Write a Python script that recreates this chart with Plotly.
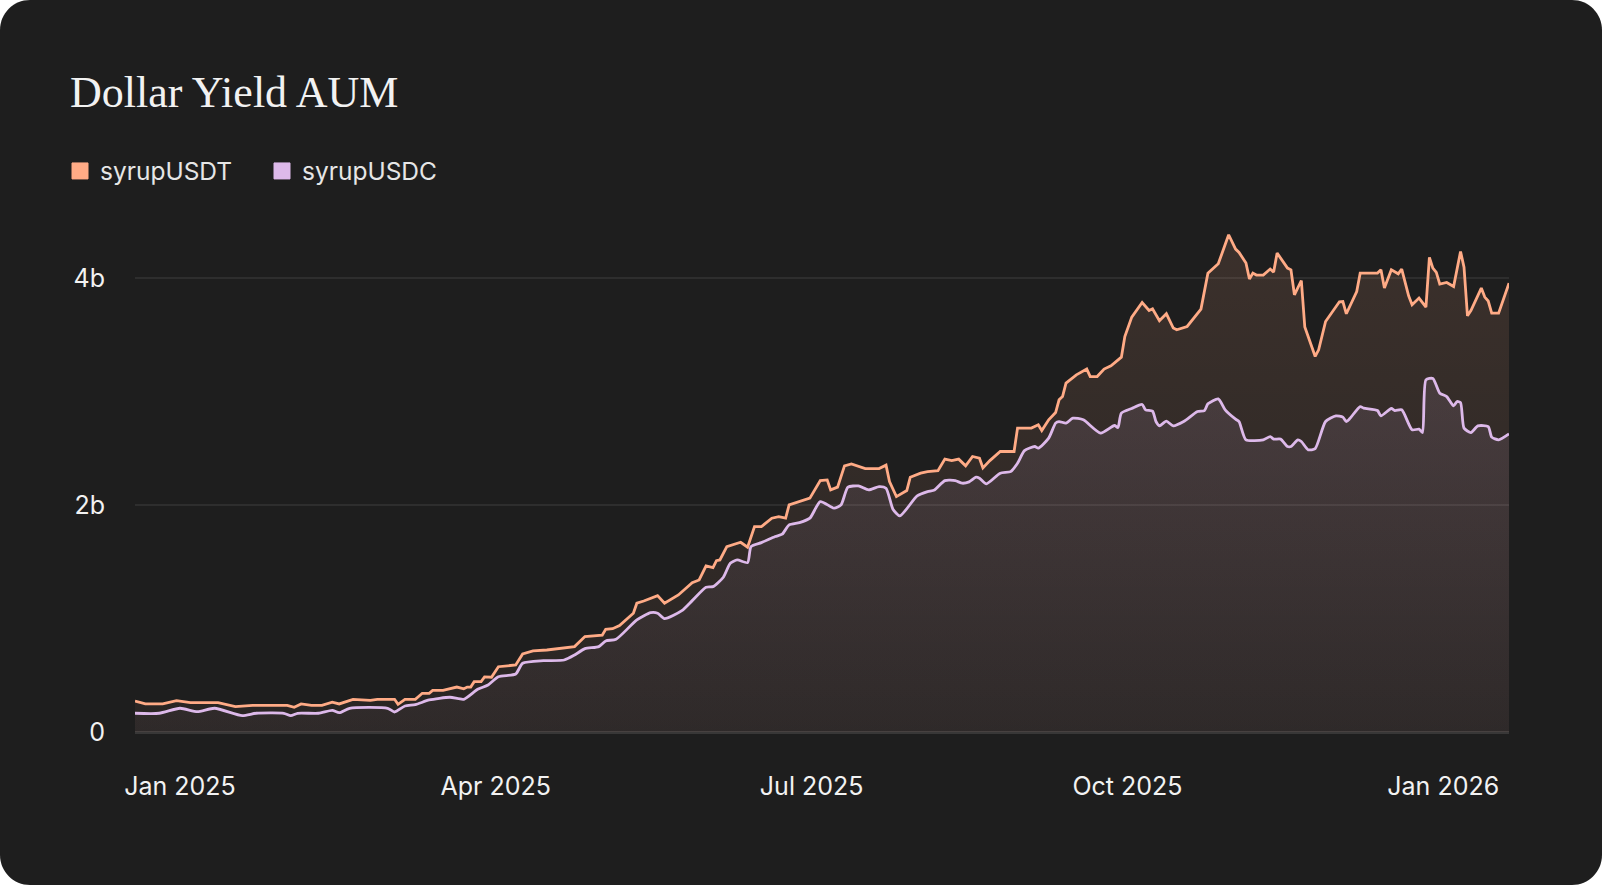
import plotly.graph_objects as go
import pandas as pd

# ---------------- data (AUM in billions USD, x = days since 2025-01-01) ----------------
BASE_DATE = "2025-01-01"

usdt_day = [-13, -10, -5, -1, 3, 11, 16, 21, 31, 33, 35, 38, 41, 44, 46, 50, 55, 57, 62, 63,
            65, 68, 70, 72, 73, 76, 80, 82, 83, 84, 85, 87, 88, 90, 92, 97, 99, 102, 106, 114,
            117, 122, 123, 125, 127, 131, 132, 134, 138, 140, 144, 148, 150, 152, 154, 155, 156, 158, 162, 164,
            166, 168, 171, 173, 175, 176, 182, 185, 187, 188, 190, 192, 194, 198, 202, 204, 205, 207, 210, 211,
            214, 216, 219, 221, 223, 225, 227, 229, 231, 232, 234, 237, 241, 242, 246, 248, 249, 251, 253, 254,
            255, 256, 259, 262, 263, 265, 267, 269, 272, 273, 275, 278, 280, 281, 283, 285, 287, 288, 291, 295,
            297, 300, 303, 305, 306, 308, 309, 310, 311, 313, 315, 316, 317, 320, 321, 322, 324, 325, 328, 329,
            331, 333, 335, 336, 337, 340, 341, 346, 347, 348, 350, 352, 353, 355, 356, 358, 360, 361, 362, 363,
            364, 366, 368, 370, 371, 372, 373, 376, 377, 378, 379, 381, 384]
usdt_aum_b = [0.273, 0.247, 0.247, 0.276, 0.258, 0.258, 0.223, 0.235, 0.235, 0.218, 0.247, 0.235, 0.235, 0.262, 0.247, 0.288, 0.279, 0.288, 0.288, 0.244,
              0.288, 0.288, 0.341, 0.341, 0.367, 0.367, 0.396, 0.381, 0.396, 0.396, 0.443, 0.443, 0.485, 0.482, 0.575, 0.590, 0.687, 0.714, 0.722, 0.752,
              0.840, 0.852, 0.905, 0.910, 0.937, 1.046, 1.134, 1.154, 1.201, 1.134, 1.207, 1.315, 1.339, 1.463, 1.448, 1.509, 1.515, 1.633, 1.671, 1.627,
              1.809, 1.809, 1.883, 1.897, 1.883, 2.000, 2.059, 2.214, 2.220, 2.132, 2.156, 2.344, 2.361, 2.320, 2.320, 2.350, 2.205, 2.073, 2.126, 2.244,
              2.279, 2.293, 2.302, 2.403, 2.390, 2.403, 2.344, 2.426, 2.411, 2.326, 2.390, 2.470, 2.470, 2.676, 2.676, 2.705, 2.655, 2.749, 2.813, 2.925,
              2.954, 3.072, 3.145, 3.196, 3.130, 3.130, 3.196, 3.225, 3.301, 3.483, 3.654, 3.782, 3.712, 3.727, 3.621, 3.683, 3.557, 3.542, 3.571, 3.724,
              4.041, 4.123, 4.379, 4.253, 4.223, 4.130, 3.989, 4.041, 4.024, 4.024, 4.077, 4.050, 4.218, 4.085, 4.070, 3.850, 3.976, 3.566, 3.307, 3.366,
              3.615, 3.703, 3.789, 3.791, 3.683, 3.879, 4.041, 4.041, 4.070, 3.909, 4.070, 4.035, 4.077, 3.841, 3.762, 3.821, 3.742, 4.179, 4.085, 4.047,
              3.944, 3.959, 3.923, 4.232, 4.094, 3.665, 3.712, 3.909, 3.830, 3.795, 3.689, 3.689, 3.953]

usdc_day = [-13, -6, 0, 5, 10, 18, 22, 30, 32, 34, 40, 44, 46, 49, 60, 62, 65, 68, 72, 78,
            82, 86, 89, 92, 97, 99, 105, 111, 114, 117, 121, 123, 126, 132, 136, 138, 140, 145, 148, 152,
            154, 157, 159, 161, 164, 165, 168, 172, 174, 176, 179, 182, 185, 189, 191, 193, 196, 199, 202, 204,
            206, 208, 213, 216, 218, 221, 224, 226, 228, 230, 231, 233, 237, 240, 242, 244, 247, 248, 251, 253,
            254, 256, 258, 261, 266, 270, 271, 272, 275, 278, 279, 281, 282, 283, 285, 287, 290, 294, 296, 297,
            300, 302, 305, 306, 308, 313, 315, 316, 318, 320, 321, 323, 324, 326, 328, 331, 334, 336, 337, 338,
            341, 342, 346, 347, 350, 351, 353, 356, 358, 359, 360, 362, 364, 366, 368, 369, 370, 371, 373, 375,
            378, 379, 381, 384]
usdc_aum_b = [0.165, 0.165, 0.209, 0.179, 0.209, 0.144, 0.165, 0.165, 0.144, 0.165, 0.165, 0.191, 0.170, 0.209, 0.209, 0.176, 0.229, 0.241, 0.282, 0.306,
              0.288, 0.376, 0.414, 0.487, 0.511, 0.605, 0.628, 0.634, 0.678, 0.734, 0.752, 0.802, 0.817, 0.987, 1.051, 1.046, 0.998, 1.069, 1.157, 1.275,
              1.280, 1.363, 1.486, 1.515, 1.492, 1.633, 1.668, 1.721, 1.742, 1.824, 1.844, 1.883, 2.029, 1.971, 2.000, 2.156, 2.167, 2.132, 2.161, 2.147,
              1.962, 1.903, 2.079, 2.117, 2.132, 2.214, 2.214, 2.191, 2.203, 2.244, 2.235, 2.185, 2.279, 2.293, 2.367, 2.478, 2.514, 2.500, 2.588, 2.720,
              2.734, 2.720, 2.764, 2.749, 2.632, 2.699, 2.681, 2.808, 2.849, 2.884, 2.837, 2.826, 2.734, 2.696, 2.737, 2.696, 2.734, 2.822, 2.831, 2.890,
              2.934, 2.837, 2.755, 2.734, 2.573, 2.573, 2.602, 2.579, 2.579, 2.514, 2.514, 2.573, 2.558, 2.485, 2.496, 2.734, 2.784, 2.773, 2.734, 2.760,
              2.866, 2.852, 2.831, 2.784, 2.849, 2.831, 2.837, 2.661, 2.667, 2.637, 3.101, 3.113, 2.984, 2.954, 2.872, 2.910, 2.901, 2.676, 2.637, 2.696,
              2.690, 2.597, 2.573, 2.626]

series_names = ["syrupUSDT", "syrupUSDC"]

y_tickvals = [0, 2, 4]
y_ticktext = ["0", "2b", "4b"]
x_tickvals = ["2025-01-01", "2025-04-02 06:00", "2025-07-02 12:00", "2025-10-01 18:00", "2026-01-01"]
x_ticktext = ["Jan 2025", "Apr 2025", "Jul 2025", "Oct 2025", "Jan 2026"]
x_range = ["2024-12-19", "2026-01-20"]
y_range = [0, 4.5]

# ---------------- styling ----------------
ORANGE = "#FFAB86"
LILAC = "#DDB9EA"
CARD = "#1E1E1E"
TEXT = "#F2F2F2"
SANS = "Inter, Roboto, sans-serif"
SERIF = "Liberation Serif, DejaVu Serif, serif"

W, H = 1602, 885
L, R, T, B = 135, 93, 221, 153
PW, PH = W - L - R, H - T - B


def to_px_x(x):
    return (x - L) / PW


def to_px_y(y):
    return 1 - (y - T) / PH


def rounded_card_path(r=30):
    k = 0.5523 * r
    pts = []
    pts.append(f"M {to_px_x(r)},{to_px_y(0)}")
    pts.append(f"L {to_px_x(W - r)},{to_px_y(0)}")
    pts.append(f"C {to_px_x(W - r + k)},{to_px_y(0)} {to_px_x(W)},{to_px_y(r - k)} {to_px_x(W)},{to_px_y(r)}")
    pts.append(f"L {to_px_x(W)},{to_px_y(H - r)}")
    pts.append(f"C {to_px_x(W)},{to_px_y(H - r + k)} {to_px_x(W - r + k)},{to_px_y(H)} {to_px_x(W - r)},{to_px_y(H)}")
    pts.append(f"L {to_px_x(r)},{to_px_y(H)}")
    pts.append(f"C {to_px_x(r - k)},{to_px_y(H)} {to_px_x(0)},{to_px_y(H - r + k)} {to_px_x(0)},{to_px_y(H - r)}")
    pts.append(f"L {to_px_x(0)},{to_px_y(r)}")
    pts.append(f"C {to_px_x(0)},{to_px_y(r - k)} {to_px_x(r - k)},{to_px_y(0)} {to_px_x(r)},{to_px_y(0)}")
    pts.append("Z")
    return " ".join(pts)


base = pd.Timestamp(BASE_DATE)
usdt_dates = base + pd.to_timedelta(usdt_day, unit="D")
usdc_dates = base + pd.to_timedelta(usdc_day, unit="D")

fig = go.Figure()

fig.add_trace(go.Scatter(
    x=usdt_dates, y=usdt_aum_b, name=series_names[0], mode="lines",
    line=dict(color=ORANGE, width=2.8, shape="linear"),
    fill="tozeroy",
    fillgradient=dict(type="vertical", colorscale=[[0, "rgba(255,171,134,0.05)"], [1, "rgba(255,171,134,0.13)"]]),
    showlegend=False, hoverinfo="skip",
))
fig.add_trace(go.Scatter(
    x=usdc_dates, y=usdc_aum_b, name=series_names[1], mode="lines",
    line=dict(color=LILAC, width=2.8, shape="spline", smoothing=0.6),
    fill="tozeroy",
    fillgradient=dict(type="vertical", colorscale=[[0, "rgba(221,185,234,0.03)"], [1, "rgba(221,185,234,0.11)"]]),
    showlegend=False, hoverinfo="skip",
))

# legend entries (square swatches)
for name, col in zip(series_names, [ORANGE, LILAC]):
    fig.add_trace(go.Scatter(
        x=[None], y=[None], mode="markers", name=name,
        marker=dict(symbol="square", size=18, color=col, line=dict(color=col, width=1)),
        showlegend=True,
    ))

fig.update_layout(
    width=W, height=H,
    margin=dict(l=L, r=R, t=T, b=B, pad=0),
    paper_bgcolor="#FFFFFF",
    plot_bgcolor="rgba(0,0,0,0)",
    shapes=[dict(type="path", xref="paper", yref="paper", path=rounded_card_path(30),
                 fillcolor=CARD, line=dict(width=0), layer="below")],
    title=dict(text="Dollar Yield AUM", x=70 / W, xref="container", xanchor="left",
               y=1 - 92 / H, yref="container", yanchor="middle",
               font=dict(family=SERIF, size=44, color=TEXT)),
    legend=dict(orientation="h", x=to_px_x(60), y=to_px_y(171), xanchor="left", yanchor="middle",
                font=dict(family=SANS, size=24.5, color="#E6E6E6"), bgcolor="rgba(0,0,0,0)",
                itemsizing="trace", entrywidth=157, tracegroupgap=0, borderwidth=0),
    showlegend=True,
    hovermode=False,
)

fig.update_xaxes(
    type="date", range=x_range, tickvals=x_tickvals, ticktext=x_ticktext,
    showgrid=False, zeroline=False, showline=False, ticks="",
    tickfont=dict(family=SANS, size=25, color=TEXT), ticklabelstandoff=37,
)
fig.update_yaxes(
    range=y_range, tickvals=y_tickvals, ticktext=y_ticktext,
    showgrid=True, gridcolor="#2E2E2E", gridwidth=2,
    zeroline=True, zerolinecolor="#383737", zerolinewidth=3,
    showline=False, ticks="",
    tickfont=dict(family=SANS, size=25, color=TEXT), ticklabelstandoff=29,
)

fig.write_html(
    "out.html",
    config={"displayModeBar": False},
    post_script="document.body.style.margin='0';document.body.style.overflow='hidden';",
)
